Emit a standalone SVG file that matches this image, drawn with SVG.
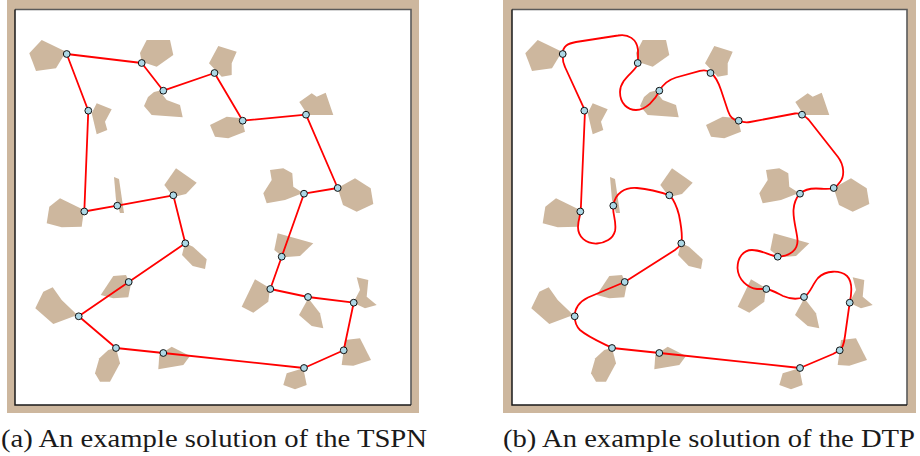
<svg xmlns="http://www.w3.org/2000/svg" xmlns:xlink="http://www.w3.org/1999/xlink" width="920" height="456" viewBox="0 0 920 456">
<style>
.frame{fill:#cdb79e}
.inner{fill:#ffffff}
.bd1{stroke:#5a5a5a;stroke-width:1.6;fill:none}
.bd2{stroke:#1a1a1a;stroke-width:1.5;fill:none}
.obs polygon{fill:#cdb79e}
.tour{fill:none;stroke:#ff0000;stroke-width:1.8;stroke-linejoin:round}
.wp circle{fill:#add8e6;stroke:#111;stroke-width:1}
.cap{font-family:"Liberation Serif","Times New Roman",serif;font-size:25px;fill:#1a1a1a}
</style>
<defs>
<g id="obstacles" class="obs">
<polygon points="41.7,40 66,51.7 56,68.3 36,71 29.3,53.3"/>
<polygon points="146.7,40 170,40 173.3,55 156.7,66.7 141.7,61.7 140,53"/>
<polygon points="144,106 148,97 154,92 159.3,90.7 166.7,100 180,105 182.7,117.3 151.7,115"/>
<polygon points="218.3,46 236.7,51.7 231.7,63.3 231.7,75 221.7,76.7 209,63.3"/>
<polygon points="96.7,103.3 111.7,109.3 105,121.7 107.3,130 96.7,134.3 91.7,113.3"/>
<polygon points="210,125 226.7,116.7 241.7,118.3 245,131.7 228.3,138.3 215,136.7"/>
<polygon points="299.3,102 311.7,93.3 316.7,96.7 325.7,92.7 333.3,115 307.7,115"/>
<polygon points="270,170 283.3,168.3 292.3,173.3 293.3,186.7 303,193 285,200 266.7,203.3 263.3,193.3 271.7,180"/>
<polygon points="337.7,188 355,178.3 370.7,188.3 373.3,204 356.7,211.7 343,205"/>
<polygon points="164.3,185 176,168.3 196.7,182.7 186,194 173.3,197"/>
<polygon points="114,177 119,179 124,213 120,213 116,200"/>
<polygon points="49.3,206.7 60,198.3 84,210 81.7,226.7 61.7,227.3 46.7,223.3"/>
<polygon points="185,243 193,246.7 206.7,259.3 205,269 192.7,266 182,255"/>
<polygon points="113.3,276 126,275 130.7,285 128.3,297.3 113.3,298.3 100.7,295"/>
<polygon points="43.3,291.7 52.7,287.3 61.7,300 77.3,315 53.3,324 35.3,308.3"/>
<polygon points="108.3,350 116,348 120,363.3 110,381.7 100,381.7 95,373.3 99.3,358.3"/>
<polygon points="159.3,355 171.7,346.7 190,356 183.3,365 158.3,369.3"/>
<polygon points="277.7,233.3 313.3,243.3 300,256 283.3,257.3 274.3,250"/>
<polygon points="255,279.3 270,288.3 268.3,301.7 253.3,312.7 241.7,306.7"/>
<polygon points="308.3,298.3 320,313.3 323.3,328.3 311.7,326 299,315"/>
<polygon points="356.7,277.3 368.3,280 366.7,296.7 376.7,305 365,308.3 353.3,302.7 360,290"/>
<polygon points="345,340 360,338.3 371,360 353.3,365.7 341.7,365"/>
<polygon points="286.7,373.3 303.3,368.3 306.7,385 295,389.3 283.3,385"/>
</g>
<g id="waypoints" class="wp">
<circle cx="66.7" cy="54" r="3.4"/>
<circle cx="141.7" cy="63" r="3.4"/>
<circle cx="163.3" cy="90.7" r="3.4"/>
<circle cx="214.5" cy="73" r="3.4"/>
<circle cx="88.3" cy="110.7" r="3.4"/>
<circle cx="117.3" cy="205.7" r="3.4"/>
<circle cx="173.3" cy="195.3" r="3.4"/>
<circle cx="84.3" cy="211.5" r="3.4"/>
<circle cx="242.7" cy="120.7" r="3.4"/>
<circle cx="306" cy="114.7" r="3.4"/>
<circle cx="337.7" cy="188" r="3.4"/>
<circle cx="304" cy="193.7" r="3.4"/>
<circle cx="185.3" cy="243.3" r="3.4"/>
<circle cx="128.7" cy="282" r="3.4"/>
<circle cx="78.7" cy="316.3" r="3.4"/>
<circle cx="116" cy="348" r="3.4"/>
<circle cx="163.3" cy="353" r="3.4"/>
<circle cx="281.7" cy="256.7" r="3.4"/>
<circle cx="270.3" cy="289" r="3.4"/>
<circle cx="308" cy="297" r="3.4"/>
<circle cx="353.7" cy="302.7" r="3.4"/>
<circle cx="343.7" cy="350.3" r="3.4"/>
<circle cx="304" cy="368" r="3.4"/>
</g>
</defs>

<g id="panel-a">
<rect class="frame" x="7" y="0" width="412" height="413"/>
<rect class="inner" x="15" y="9.5" width="396" height="395.5"/>
<path class="bd1" d="M15,9.5 H411 V405"/>
<path class="bd2" d="M15,9.5 V405 H411"/>
<use xlink:href="#obstacles" href="#obstacles"/>
<g id="connectors-a">
<path class="tour" d="M66.7,54 L141.7,63 L163.3,90.7 L214.5,73 L242.7,120.7 L306,114.7 L337.7,188 L304,193.7 L281.7,256.7 L270.3,289 L308,297 L353.7,302.7 L343.7,350.3 L304,368 L163.3,353 L116,348 L78.7,316.3 L128.7,282 L185.3,243.3 L173.3,195.3 L117.3,205.7 L84.3,211.5 L88.3,110.7 Z"/>
</g>
<g id="nodes-a">
<use xlink:href="#waypoints" href="#waypoints"/>
</g>
</g>

<g id="panel-b">
<rect class="frame" x="503" y="0" width="413" height="413"/>
<rect class="inner" x="512" y="9.5" width="395" height="395.5"/>
<path class="bd1" d="M512,9.5 H907 V405"/>
<path class="bd2" d="M512,9.5 V405 H907"/>
<use xlink:href="#obstacles" href="#obstacles" transform="translate(496,0)"/>
<g id="connectors-b">
<path class="tour" d="M562.7,54 C562.7,46 568,43.5 576,42 L618,35.5 C628,33.5 637,39 638,50 L638,63
C638,70 620,78 620,92 C620,104 628,110 636,110 C646,110 655,100 659.7,90.7
C663,84 668,80 676,77.5 L700,70.8 C705,69.8 709,71 711,72.7
C715,76 718,81 721,90 L728,111 C730,117 734,120.5 738.7,120.7
C742,122 745,123 750,122 L795,113.5 C798,113 800,114 802,114.7
C804.5,116 806,117 808.5,119.5 L838,157 C844,165 845,176 840,182 C838,185 836,187 833.7,188
C828,190 822,188.5 816,188.5 C810,188.5 804,190 800,193.7
C797,197 794,202 793.5,210 C793,220 797,232 797.5,240 C798,250 790,256 778,256.7
C770,256 762,250 752,250 C743,250 737.5,258 737.5,268 C738,280 748,288 757,289 L766.7,289
C772,290 777,293 783,296 C790,299 798,299.5 804,297
C810,294 812,285 818,278 C826,270 840,270 847,276 C852,281 852,292 849.7,302.7
L845,336 C844,344 843,348 839.7,350.3 C837,352 835,353 833,354 L800,368
L659.7,353 L612.3,348
C600,342 588,337 580,330 C576,326 574.7,321 574.7,316.3
C574.7,309 578,302.5 588,297.5 L624.7,282 L675,250
C678,248 680,246 681.3,243.3 C683,236 681,225 679,215 C677,207 674,200 669.7,195.3
C660,192 648,189 637,188 C625,187 615,193 613.3,205.7
C612,213 617,222 615,231 C613,239 605,243 597,243.5 C586,244 578,237 578,227 C578,221 580,216 580.7,211.7
L585,110.7 L565,67 C562.5,62 562.5,58 562.7,54 Z"/>
</g>
<g id="nodes-b">
<use xlink:href="#waypoints" href="#waypoints" transform="translate(496,0)"/>
</g>
</g>

<g id="captions">
<text class="cap" x="1" y="446.5" textLength="426" lengthAdjust="spacingAndGlyphs">(a) An example solution of the TSPN</text>
<text class="cap" x="503" y="446.5" textLength="412" lengthAdjust="spacingAndGlyphs">(b) An example solution of the DTP</text>
</g>
</svg>
